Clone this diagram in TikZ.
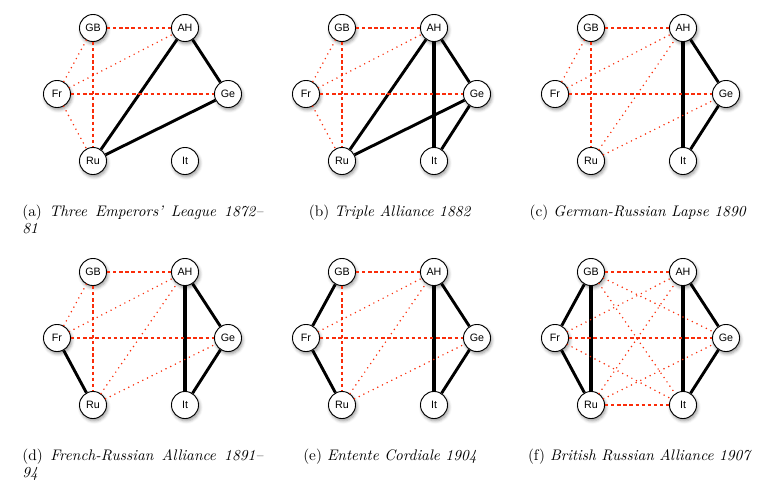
\documentclass[tikz,border=0pt]{standalone}
\usepackage{fontspec}
\newfontfamily\nodefont{Liberation Sans}
\definecolor{warred}{RGB}{250,45,10}
\usetikzlibrary{shadows.blur}

\begin{document}
\begin{tikzpicture}[x=0.654pt, y=-0.654pt,
  power/.style={circle, draw, line width=0.6pt, fill=white, minimum size=17.7pt, inner sep=0pt,
    font=\nodefont\fontsize{7}{8}\selectfont,
    blur shadow={shadow xshift=0.8pt, shadow yshift=-1.5pt, shadow blur radius=2pt}},
  ally/.style={line width=1.9pt},
  strong ally/.style={line width=2.7pt},
  enemy/.style={draw=warred, line width=1.3pt, dash pattern=on 2.2pt off 1.8pt},
  rival/.style={draw=warred, line width=1.1pt, line cap=round, dash pattern=on 0pt off 3.4pt},
  caption/.style={inner sep=0pt, font=\fontsize{10}{11}\selectfont}]
  \useasboundingbox (0,0) rectangle (783,485);

  \foreach \p/\dx/\dy in {a/0/0, b/249/0, c/498/0, d/0/244, e/249/244, f/498/244} {
    \node[power] (\p-GB) at (93+\dx, 28+\dy) {GB};
    \node[power] (\p-AH) at (185+\dx, 28+\dy) {AH};
    \node[power] (\p-Fr) at (57+\dx, 94+\dy) {Fr};
    \node[power] (\p-Ge) at (228+\dx, 94+\dy) {Ge};
    \node[power] (\p-Ru) at (93+\dx, 161+\dy) {Ru};
    \node[power] (\p-It) at (185+\dx, 161+\dy) {It};
  }

  % (a)
  \foreach \u/\v in {AH/Ru, AH/Ge, Ge/Ru} \draw[ally] (a-\u) -- (a-\v);
  \foreach \u/\v in {GB/AH, GB/Ru, Fr/Ge} \draw[enemy] (a-\u) -- (a-\v);
  \foreach \u/\v in {GB/Fr, Fr/AH, Fr/Ru} \draw[rival] (a-\u) -- (a-\v);
  % (b)
  \foreach \u/\v in {AH/Ru, AH/Ge, Ge/Ru, Ge/It} \draw[ally] (b-\u) -- (b-\v);
  \draw[strong ally] (b-AH) -- (b-It);
  \foreach \u/\v in {GB/AH, GB/Ru, Fr/Ge} \draw[enemy] (b-\u) -- (b-\v);
  \foreach \u/\v in {GB/Fr, Fr/AH, Fr/Ru} \draw[rival] (b-\u) -- (b-\v);
  % (c)
  \foreach \u/\v in {AH/Ge, Ge/It} \draw[ally] (c-\u) -- (c-\v);
  \draw[strong ally] (c-AH) -- (c-It);
  \foreach \u/\v in {GB/AH, GB/Ru, Fr/Ge} \draw[enemy] (c-\u) -- (c-\v);
  \foreach \u/\v in {GB/Fr, Fr/AH, Ru/AH, Ru/Ge} \draw[rival] (c-\u) -- (c-\v);
  % (d)
  \foreach \u/\v in {Fr/Ru, AH/Ge, Ge/It} \draw[ally] (d-\u) -- (d-\v);
  \draw[strong ally] (d-AH) -- (d-It);
  \foreach \u/\v in {GB/AH, GB/Ru, Fr/Ge} \draw[enemy] (d-\u) -- (d-\v);
  \foreach \u/\v in {GB/Fr, Fr/AH, Ru/AH, Ru/Ge} \draw[rival] (d-\u) -- (d-\v);
  % (e)
  \foreach \u/\v in {GB/Fr, Fr/Ru, AH/Ge, Ge/It} \draw[ally] (e-\u) -- (e-\v);
  \draw[strong ally] (e-AH) -- (e-It);
  \foreach \u/\v in {GB/AH, GB/Ru, Fr/Ge} \draw[enemy] (e-\u) -- (e-\v);
  \foreach \u/\v in {Fr/AH, Ru/AH, Ru/Ge} \draw[rival] (e-\u) -- (e-\v);
  % (f)
  \foreach \u/\v in {GB/Fr, Fr/Ru, AH/Ge, Ge/It} \draw[ally] (f-\u) -- (f-\v);
  \foreach \u/\v in {GB/Ru, AH/It} \draw[strong ally] (f-\u) -- (f-\v);
  \foreach \u/\v in {GB/AH, Fr/Ge, Ru/It} \draw[enemy] (f-\u) -- (f-\v);
  \foreach \u/\v in {GB/Ge, GB/It, Fr/AH, Fr/It, Ru/AH, Ru/Ge} \draw[rival] (f-\u) -- (f-\v);

  \node[caption, text width=157.6pt, align=justify, anchor=north west] (a-cap) at (22,205)
    {(a) \textit{Three Emperors' League 1872--\linebreak 81}};
  \node[caption, anchor=base] (b-cap) at (390,216.7) {(b) \textit{Triple Alliance 1882}};
  \node[caption, anchor=base] (c-cap) at (638,216.7) {(c) \textit{German-Russian Lapse 1890}};
  \node[caption, text width=157.6pt, align=justify, anchor=north west] (d-cap) at (22,449)
    {(d) \textit{French-Russian Alliance 1891--\linebreak 94}};
  \node[caption, anchor=base] (e-cap) at (390,460.7) {(e) \textit{Entente Cordiale 1904}};
  \node[caption, anchor=base] (f-cap) at (640,460.7) {(f) \textit{British Russian Alliance 1907}};
\end{tikzpicture}
\end{document}
